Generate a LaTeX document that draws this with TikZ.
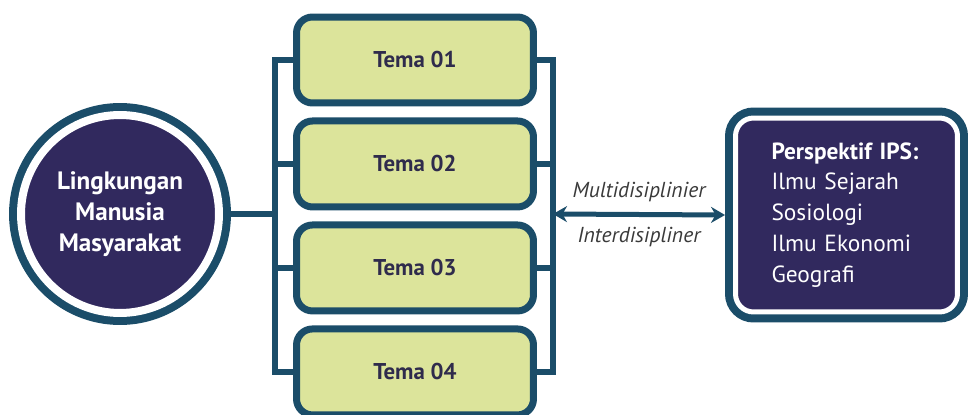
\documentclass[tikz,border=0pt]{standalone}
\usepackage{fontspec}
\setmainfont{PT Sans}
\usetikzlibrary{positioning, arrows.meta}

\definecolor{ringteal}{HTML}{1B4D69}
\definecolor{deeppurple}{HTML}{31295E}
\definecolor{temagreen}{HTML}{DCE49B}
\definecolor{temafont}{HTML}{2F2B4C}
\definecolor{labelgrey}{HTML}{3A3A3A}

\begin{document}
\begin{tikzpicture}[
    x=0.02cm, y=-0.02cm,
    >={Stealth[length=0.28cm, width=0.32cm]},
    link/.style={draw=ringteal, line width=0.12cm},
    tema/.style={draw=ringteal, fill=temagreen, line width=0.14cm, rounded corners=0.32cm,
        minimum width=4.74cm, minimum height=1.72cm, text=temafont,
        font=\bfseries\fontsize{13}{15}\selectfont},
    hub/.style={circle, fill=deeppurple, draw=white, line width=0.16cm,
        preaction={draw=ringteal, line width=0.48cm}, minimum size=3.96cm, outer sep=0.24cm,
        align=center, text=white, font=\bfseries\fontsize{14.3}{17.6}\selectfont},
    ipsbox/.style={fill=deeppurple, draw=white, line width=0.1cm, rounded corners=0.36cm,
        preaction={draw=ringteal, line width=0.42cm}, minimum width=4.44cm, minimum height=3.88cm,
        text width=3.0cm, inner xsep=0.72cm, outer sep=0.21cm, align=left, text=white,
        font=\fontsize{13.3}{17.6}\selectfont},
    mode/.style={text=labelgrey, font=\itshape\fontsize{12.3}{14}\selectfont}
]
    \useasboundingbox (0,0) rectangle (970,415);

    % Central theme
    \node[hub] (lingk) at (120,214) {Lingkungan\\Manusia\\Masyarakat};

    % Themes
    \node[tema] (t1) at (415,60) {Tema 01};
    \node[tema, below=0.22cm of t1] (t2) {Tema 02};
    \node[tema, below=0.22cm of t2] (t3) {Tema 03};
    \node[tema, below=0.22cm of t3] (t4) {Tema 04};

    % Perspectives
    \node[ipsbox] (ips) at (846.5,215) {\textbf{Perspektif IPS:}\\Ilmu Sejarah\\Sosiologi\\Ilmu Ekonomi\\Geografi};

    % Bus lines
    \coordinate (lbus) at (275,214);
    \coordinate (rbus) at (553,214);

    \draw[link] (lingk.east) -- (lbus);
    \draw[link] (t1.west) -| (lbus) |- (t4.west);
    \draw[link] (t2.west) -- (t2.west -| lbus);
    \draw[link] (t3.west) -- (t3.west -| lbus);

    \draw[link] (t1.east) -| (rbus) |- (t4.east);
    \draw[link] (t2.east) -- (t2.east -| rbus);
    \draw[link] (t3.east) -- (t3.east -| rbus);

    % Approach
    \draw[link, line width=0.1cm, <->] (rbus) -- (ips.west)
        node[mode, midway, above=0.08cm] {Multidisiplinier}
        node[mode, midway, below=0.08cm] {Interdisipliner};

\end{tikzpicture}
\end{document}
